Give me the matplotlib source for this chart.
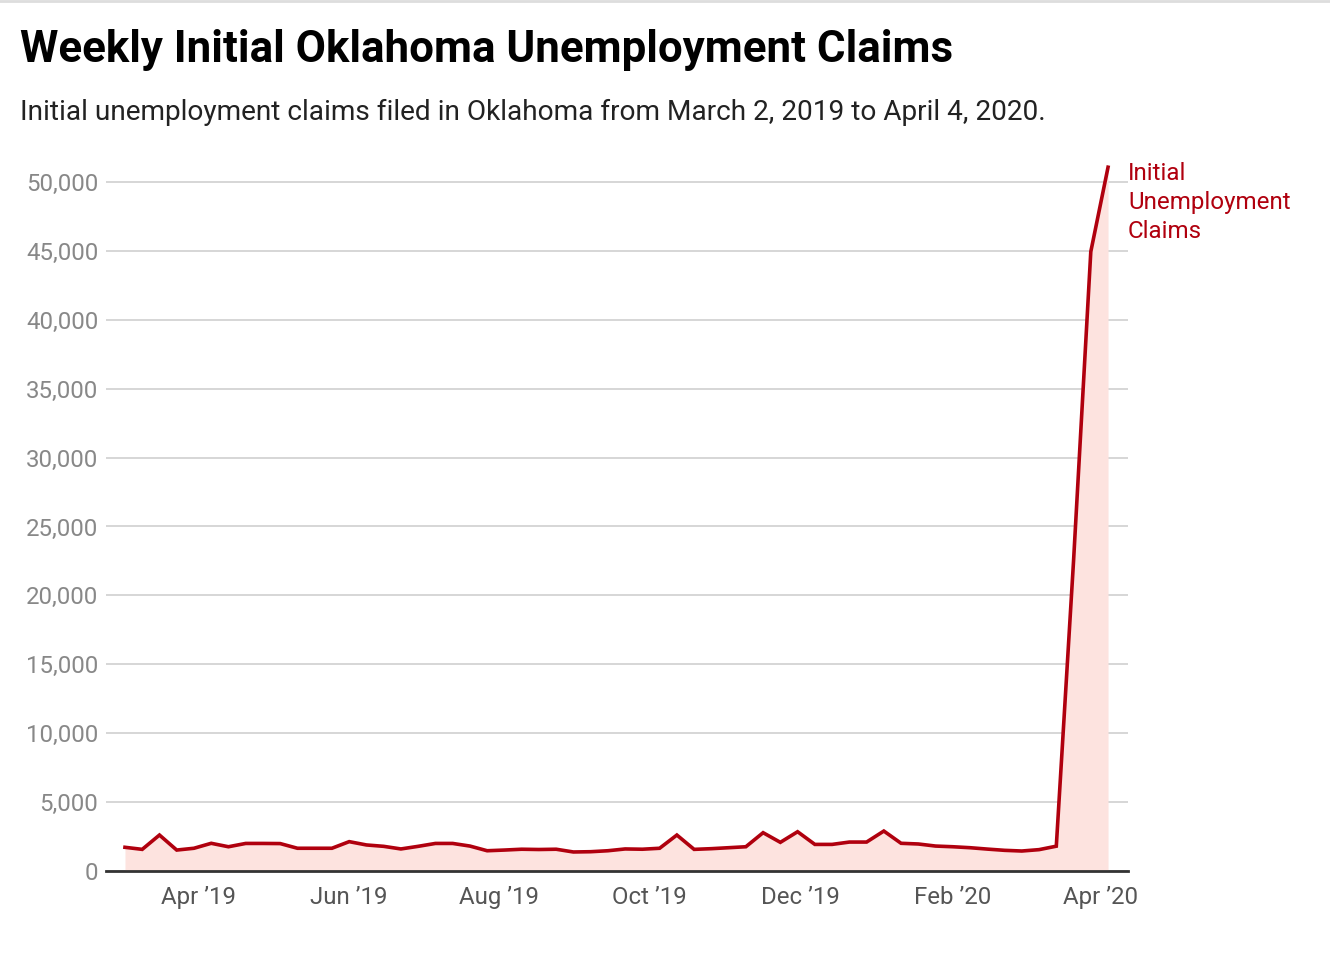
import matplotlib
matplotlib.use("Agg")
import matplotlib.pyplot as plt
import matplotlib.dates as mdates
import matplotlib.ticker as mticker
import pandas as pd
import numpy as np
from matplotlib.lines import Line2D

start_date = "2019-03-02"
end_date = "2020-04-04"
claims = [1720, 1570, 2610, 1520, 1650, 2010, 1760, 2000, 2000, 1990,
          1650, 1650, 1650, 2130, 1890, 1790, 1600, 1790, 2000, 2000,
          1810, 1470, 1520, 1580, 1560, 1580, 1380, 1400, 1470, 1600,
          1580, 1650, 2610, 1570, 1620, 1690, 1760, 2780, 2080, 2850,
          1930, 1930, 2100, 2100, 2900, 2010, 1960, 1810, 1760, 1690,
          1590, 1500, 1450, 1550, 1800, 22500, 44940, 51070]
series_label = "Initial\nUnemployment\nClaims"
title = "Weekly Initial Oklahoma Unemployment Claims"
subtitle = "Initial unemployment claims filed in Oklahoma from March 2, 2019 to April 4, 2020."
y_ticks = [0, 5000, 10000, 15000, 20000, 25000, 30000, 35000, 40000, 45000, 50000]
x_tick_dates = ["2019-04-01", "2019-06-01", "2019-08-01", "2019-10-01",
                "2019-12-01", "2020-02-01", "2020-04-01"]

dates = pd.date_range(start_date, end_date, freq="W-SAT")

W, H = 1330, 956
fig = plt.figure(figsize=(W / 100, H / 100), dpi=100)
ax_top_px = 154.4
ax = fig.add_axes([106 / W, (H - 871) / H, (1128 - 106) / W, (871 - ax_top_px) / H])

line_color = "#b0000e"
fill_color = "#fde3df"

ax.fill_between(dates, 0, claims, color=fill_color, linewidth=0, zorder=1)
ax.plot(dates, claims, color=line_color, linewidth=2.6, solid_joinstyle="miter", zorder=3)

x0 = pd.Timestamp(start_date) - pd.Timedelta(days=7.7)
x1 = pd.Timestamp(start_date) + pd.Timedelta(days=407.1)
ax.set_xlim(x0, x1)
ax.set_ylim(0, 52000)

ax.set_yticks(y_ticks)
ax.yaxis.set_major_formatter(mticker.FuncFormatter(lambda v, p: f"{int(v):,}"))
ax.set_xticks(pd.to_datetime(x_tick_dates))
ax.xaxis.set_major_formatter(mdates.DateFormatter("%b \u2019%y"))

ax.grid(axis="y", color="#d6d6d6", linewidth=1.4, zorder=0)
ax.set_axisbelow(True)
for s in ["top", "right", "left"]:
    ax.spines[s].set_visible(False)
ax.spines["bottom"].set_color("#333333")
ax.spines["bottom"].set_linewidth(2)
ax.spines["bottom"].set_zorder(4)
ax.tick_params(axis="both", length=0)
ax.tick_params(axis="y", labelsize=17.3, labelcolor="#888888", pad=5.5)
ax.tick_params(axis="x", labelsize=17.3, labelcolor="#555555", pad=11)
for lab in ax.get_xticklabels() + ax.get_yticklabels():
    lab.set_family("Roboto")

fig.text(20 / W, 1 - 50 / H, title, fontsize=31.6, fontweight="bold",
         family="Roboto", color="#000000", va="center", ha="left")
fig.text(20 / W, 1 - 112 / H, subtitle, fontsize=20.15,
         family="Roboto", color="#222222", va="center", ha="left")

ax.text(1.0, 1 - (162 - ax_top_px) / (871 - ax_top_px), series_label, transform=ax.transAxes,
        fontsize=17.4, family="Roboto", color=line_color, va="top", ha="left",
        linespacing=1.32)

fig.add_artist(Line2D([0, 1], [1 - 1 / H, 1 - 1 / H], transform=fig.transFigure,
                      color="#dddddd", linewidth=2))

fig.savefig("out.png", dpi=100)
